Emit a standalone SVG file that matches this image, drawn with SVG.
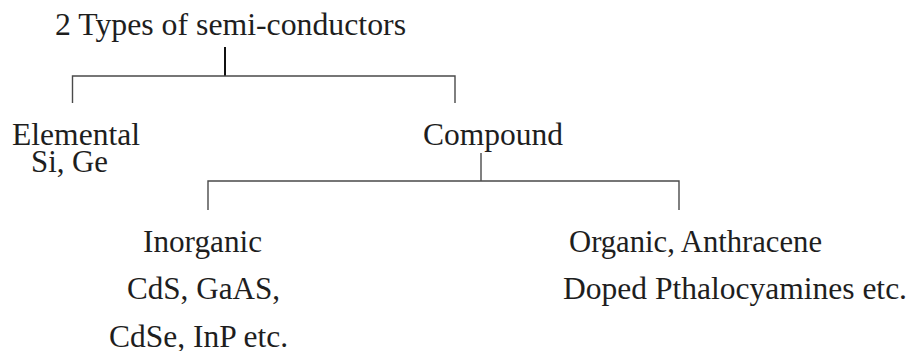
<svg xmlns="http://www.w3.org/2000/svg" width="912" height="351" viewBox="0 0 912 351">
<style>
text{font-family:"Liberation Serif","Times New Roman",serif;font-size:32px;fill:#1e1e1e}
.c{stroke:#4a4a4a;stroke-width:1.4;fill:none}
.s{stroke:#111;stroke-width:2;fill:none}
</style>
<rect width="912" height="351" fill="#fff"/>
<g id="connectors">
<line class="s" x1="225" y1="47" x2="225" y2="76"/>
<polyline class="c" points="72.5,103 72.5,76 455,76 455,103"/>
<line class="c" x1="481" y1="153" x2="481" y2="181"/>
<polyline class="c" points="208,210 208,181 679,181 679,210"/>
</g>
<g id="root"><text x="55" y="35" textLength="351" lengthAdjust="spacingAndGlyphs">2 Types of semi-conductors</text></g>
<g id="elemental">
<text x="12" y="145" textLength="128" lengthAdjust="spacingAndGlyphs">Elemental</text>
<text x="31" y="172" textLength="77" lengthAdjust="spacingAndGlyphs">Si, Ge</text>
</g>
<g id="compound"><text x="423" y="145" textLength="140" lengthAdjust="spacingAndGlyphs">Compound</text></g>
<g id="inorganic">
<text x="143" y="252" textLength="119" lengthAdjust="spacingAndGlyphs">Inorganic</text>
<text x="127" y="299" textLength="153" lengthAdjust="spacingAndGlyphs">CdS, GaAS,</text>
<text x="109" y="347" textLength="179" lengthAdjust="spacingAndGlyphs">CdSe, InP etc.</text>
</g>
<g id="organic">
<text x="569" y="252" textLength="253" lengthAdjust="spacingAndGlyphs">Organic, Anthracene</text>
<text x="563" y="298.5" textLength="344" lengthAdjust="spacingAndGlyphs">Doped Pthalocyamines etc.</text>
</g>
</svg>
